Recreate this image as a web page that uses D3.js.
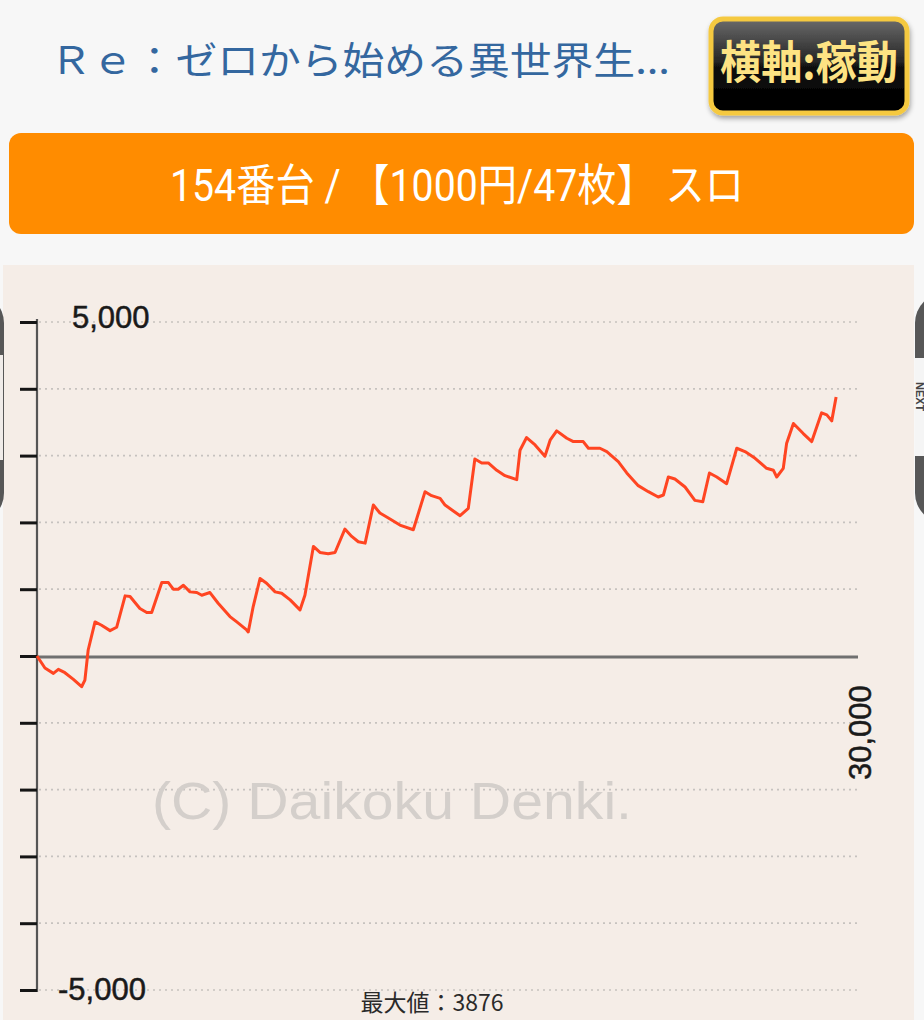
<!DOCTYPE html>
<html><head><meta charset="utf-8">
<script src="https://cdn.jsdelivr.net/npm/d3@7"></script>
<style>
html,body{margin:0;padding:0;background:#f7f7f7;overflow:hidden;}
svg{display:block;}
</style></head>
<body>
<script>
const titleText = "Ｒｅ：ゼロから始める異世界生...";
const buttonText = "横軸:稼動";
const machineText = "154番台 / 【1000円/47枚】 スロ";
const watermarkText = "(C) Daikoku Denki.";
const maxText = "最大値：3876";
const nextText = "NEXT";
const yTicks = [5000,4000,3000,2000,1000,0,-1000,-2000,-3000,-4000,-5000];
const yTickLabels = [{v:5000,t:"5,000"},{v:-5000,t:"-5,000"}];
const xMaxLabel = "30,000";
const games = [0,290,600,780,1020,1330,1630,1750,1870,2120,2360,2670,2910,3220,3400,3760,4010,4190,4560,4800,4980,5160,5350,5590,5840,6020,6320,6620,7050,7300,7660,7720,7900,8150,8390,8700,8940,9250,9610,9790,10100,10340,10640,10890,11250,11500,11740,11990,12290,12530,12900,13260,13750,14180,14420,14730,14910,15150,15460,15760,16000,16250,16490,16800,17100,17530,17650,17890,18200,18560,18750,18990,19360,19600,19960,20150,20570,20820,21240,21550,21970,22340,22700,22890,23070,23310,23680,24040,24330,24570,24840,25200,25570,25870,26240,26660,26910,27030,27270,27390,27640,28000,28310,28670,28860,29040,29200];
const diff = [0,-180,-260,-200,-250,-350,-460,-360,90,510,460,380,430,900,890,710,650,650,1100,1100,1000,1000,1060,960,950,910,950,790,590,510,390,360,740,1160,1090,960,940,840,690,910,1640,1550,1530,1550,1900,1790,1710,1690,2260,2140,2050,1960,1890,2460,2400,2360,2260,2190,2100,2210,2950,2890,2890,2780,2700,2640,3080,3270,3160,2990,3230,3370,3260,3210,3210,3110,3110,3060,2910,2740,2550,2460,2380,2410,2680,2650,2530,2330,2310,2740,2680,2580,3110,3060,2960,2810,2780,2680,2810,3180,3480,3330,3210,3640,3610,3520,3876];

const W = 924, H = 1020;
const svg = d3.select("body").append("svg").attr("width", W).attr("height", H);
const defs = svg.append("defs");
const g1 = defs.append("linearGradient").attr("id","btnGrad").attr("x1",0).attr("y1",0).attr("x2",0).attr("y2",1);
g1.append("stop").attr("offset","0%").attr("stop-color","#6b6b6b");
g1.append("stop").attr("offset","45%").attr("stop-color","#262626");
g1.append("stop").attr("offset","52%").attr("stop-color","#0c0c0c");
g1.append("stop").attr("offset","100%").attr("stop-color","#000");
const sh = defs.append("filter").attr("id","shadow").attr("x","-10%").attr("y","-10%").attr("width","130%").attr("height","140%");
sh.append("feDropShadow").attr("dx",1).attr("dy",3).attr("stdDeviation",2.5).attr("flood-color","#000").attr("flood-opacity",0.35);

svg.append("rect").attr("width",W).attr("height",H).attr("fill","#f7f7f7");

// Title
svg.append("text").attr("x",50).attr("y",74)
  .attr("font-family","'Noto Sans CJK JP', sans-serif").attr("font-size",38)
  .attr("fill","#34679f").attr("textLength",620).attr("lengthAdjust","spacingAndGlyphs")
  .text(titleText);

// Button
svg.append("rect").attr("x",711).attr("y",19).attr("width",196).attr("height",94).attr("rx",12)
  .attr("fill","url(#btnGrad)").attr("stroke","#f5c940").attr("stroke-width",5).attr("filter","url(#shadow)");
svg.append("text").attr("x",720).attr("y",79)
  .attr("font-family","'Noto Sans CJK JP', sans-serif").attr("font-weight","bold").attr("font-size",45)
  .attr("fill","#fde383").attr("textLength",178).attr("lengthAdjust","spacingAndGlyphs")
  .text(buttonText);

// Orange bar
svg.append("rect").attr("x",9).attr("y",133).attr("width",905).attr("height",101).attr("rx",12).attr("fill","#ff8c00");
svg.append("text").attr("x",170).attr("y",201)
  .attr("font-family","Roboto, 'Noto Sans CJK JP', sans-serif").attr("font-size",44)
  .attr("fill","#fff").attr("textLength",574).attr("lengthAdjust","spacingAndGlyphs")
  .text(machineText);

// Chart panel
svg.append("rect").attr("x",3).attr("y",265).attr("width",911).attr("height",H-265).attr("fill","#f5ede7");

// Side buttons (partially off-screen)
svg.append("rect").attr("x",-60).attr("y",293).attr("width",64).attr("height",230).attr("rx",30).attr("fill","#575757");
svg.append("rect").attr("x",0).attr("y",355).attr("width",3).attr("height",105).attr("fill","#f0ece9");
svg.append("rect").attr("x",915).attr("y",293).attr("width",70).attr("height",230).attr("rx",30).attr("fill","#575757");
svg.append("rect").attr("x",915).attr("y",358).attr("width",9).attr("height",98).attr("fill","#f5f5f5");
svg.append("text").attr("transform","translate(915.5,382) rotate(90)")
  .attr("font-family","'Liberation Sans', Arial, sans-serif").attr("font-weight","bold").attr("font-size",11)
  .attr("fill","#444").text(nextText);

// Scales
const x = d3.scaleLinear().domain([0,30000]).range([37,858]);
const y = d3.scaleLinear().domain([-5000,5000]).range([990,322]);

// Gridlines
svg.append("g").selectAll("line").data(yTicks.filter(v=>v!==0)).join("line")
  .attr("x1",x(0)+2).attr("x2",x(30000)).attr("y1",d=>y(d)).attr("y2",d=>y(d))
  .attr("stroke","#c6c2bf").attr("stroke-width",1.7).attr("stroke-dasharray","2,4");

// Watermark
svg.append("text").attr("x",152).attr("y",819)
  .attr("font-family","'Liberation Sans', Arial, sans-serif").attr("font-size",52)
  .attr("fill","#d4cfcb").attr("textLength",480).attr("lengthAdjust","spacingAndGlyphs")
  .text(watermarkText);

// Zero line
svg.append("line").attr("x1",x(0)).attr("x2",x(30000)).attr("y1",y(0)+1).attr("y2",y(0)+1)
  .attr("stroke","#707070").attr("stroke-width",3);

// Y axis
const yAxis = d3.axisLeft(y).tickValues(yTicks).tickSize(17).tickFormat("");
const ag = svg.append("g").attr("transform",`translate(${x(0)},0)`).call(yAxis);
ag.select(".domain").attr("stroke","#555").attr("stroke-width",2.2).attr("d",`M0,${y(5000)-3}V${y(-5000)+2}`);
ag.selectAll(".tick line").attr("stroke","#151515").attr("stroke-width",3);

// Y labels
svg.append("g").selectAll("text").data(yTickLabels).join("text")
  .attr("x",d=>d.v>0?72:58).attr("y",d=>d.v>0?y(d.v)+6:y(d.v)+10)
  .attr("font-family","'Liberation Sans', Arial, sans-serif").attr("font-size",31)
  .attr("fill","#1a1a1a").attr("stroke","#1a1a1a").attr("stroke-width",0.5)
  .text(d=>d.t);

// X label rotated
svg.append("text").attr("transform",`translate(${x(30000)+13},780) rotate(-90)`)
  .attr("font-family","'Liberation Sans', Arial, sans-serif").attr("font-size",31)
  .attr("fill","#1a1a1a").attr("stroke","#1a1a1a").attr("stroke-width",0.5)
  .text(xMaxLabel);

// Line
const pts = games.map((gm,i)=>[gm,diff[i]]);
svg.append("path").datum(pts)
  .attr("d", d3.line().x(d=>x(d[0])).y(d=>y(d[1])))
  .attr("fill","none").attr("stroke","#ff4522").attr("stroke-width",3).attr("stroke-linejoin","round");

// Max value text
svg.append("text").attr("x",432).attr("y",1011).attr("text-anchor","middle")
  .attr("font-family","'Noto Sans CJK JP', sans-serif").attr("font-size",23)
  .attr("fill","#2a2a2a").text(maxText);
</script>
</body></html>
